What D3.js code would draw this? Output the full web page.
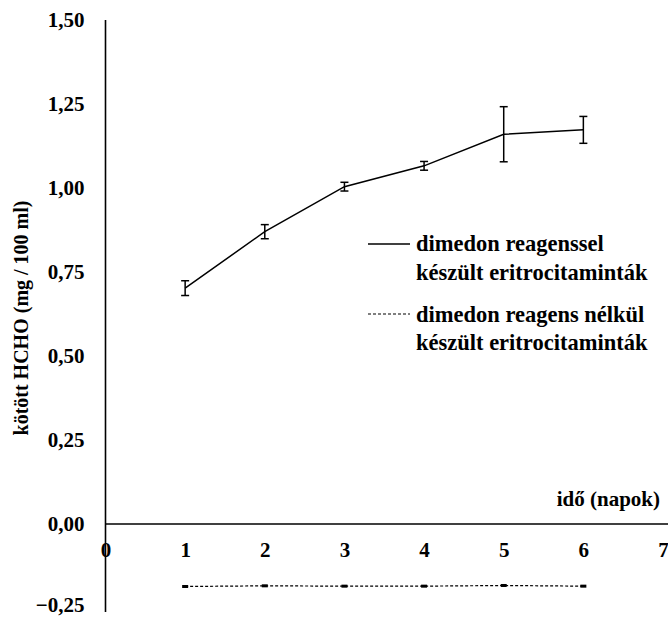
<!DOCTYPE html>
<html><head><meta charset="utf-8">
<script src="https://cdn.jsdelivr.net/npm/d3@7"></script>
<style>body{margin:0;background:#fff}svg{display:block}text{font-family:"Liberation Serif","Times New Roman",serif;font-weight:bold;fill:#000}</style>
</head><body>
<script>
const days = [1, 2, 3, 4, 5, 6];
const withReagent = [0.702, 0.870, 1.004, 1.066, 1.160, 1.173];
const withReagentErr = [0.022, 0.021, 0.013, 0.013, 0.082, 0.040];
const withoutReagent = [-0.186, -0.184, -0.185, -0.185, -0.183, -0.185];
const xTicks = [0, 1, 2, 3, 4, 5, 6, 7];
const yTicks = [-0.25, 0, 0.25, 0.5, 0.75, 1.0, 1.25, 1.5];
const legendLabels = [["dimedon reagenssel", "készült eritrocitaminták"], ["dimedon reagens nélkül", "készült eritrocitaminták"]];
const yTitle = "kötött HCHO (mg / 100 ml)";
const xTitle = "idő (napok)";

const W = 668, H = 618;
const svg = d3.select("body").append("svg").attr("width", W).attr("height", H);
const x = d3.scaleLinear().domain([0, 7]).range([105.5, 663]);
const y = d3.scaleLinear().domain([-0.25, 1.5]).range([608, 20]);
const fmt = v => d3.format(".2f")(v).replace(".", ",");

// Y axis
const yAx = svg.append("g").attr("transform", "translate(105.5,0)")
  .call(d3.axisLeft(y).tickValues(yTicks).tickSize(0).tickPadding(21).tickFormat(fmt));
yAx.select(".domain").remove();
yAx.selectAll("text").style("font-size", "21px").style("font-family", "Liberation Serif").style("font-weight", "bold")
  .attr("dy", d => d < 0 ? "0.15em" : "0.33em");
svg.append("line").attr("x1", 105.5).attr("x2", 105.5).attr("y1", y(1.5)).attr("y2", 612).attr("stroke", "#000").attr("stroke-width", 1.6);

// X axis
const xAx = svg.append("g").attr("transform", `translate(0,${y(0)})`)
  .call(d3.axisBottom(x).tickValues(xTicks).tickSize(0).tickPadding(18).tickFormat(d3.format("d")));
xAx.select(".domain").remove();
xAx.selectAll("text").style("font-size", "21px").style("font-family", "Liberation Serif").style("font-weight", "bold");
svg.append("line").attr("x1", 105.5).attr("x2", W).attr("y1", y(0)).attr("y2", y(0)).attr("stroke", "#000").attr("stroke-width", 1.6);

svg.append("text").attr("x", 660).attr("y", 506).attr("text-anchor", "end").style("font-size", "21px").text(xTitle);
svg.append("text").attr("transform", "translate(28,318) rotate(-90)").attr("text-anchor", "middle").style("font-size", "20px").text(yTitle);

// Series with reagent
const line = d3.line().x((d, i) => x(days[i])).y(d => y(d));
svg.append("path").datum(withReagent).attr("d", line).attr("fill", "none").attr("stroke", "#000").attr("stroke-width", 1.5);
const eb = svg.append("g").attr("stroke", "#000").attr("stroke-width", 1.5);
days.forEach((d, i) => {
  const cx = x(d), t = y(withReagent[i] + withReagentErr[i]), b = y(withReagent[i] - withReagentErr[i]);
  eb.append("line").attr("x1", cx).attr("x2", cx).attr("y1", t).attr("y2", b);
  eb.append("line").attr("x1", cx - 4).attr("x2", cx + 4).attr("y1", t).attr("y2", t);
  eb.append("line").attr("x1", cx - 4).attr("x2", cx + 4).attr("y1", b).attr("y2", b);
});

// Series without reagent
svg.append("path").datum(withoutReagent).attr("d", line).attr("fill", "none").attr("stroke", "#000").attr("stroke-width", 1.2).attr("stroke-dasharray", "3,2");
svg.append("g").selectAll("rect").data(withoutReagent).join("rect")
  .attr("x", (d, i) => x(days[i]) - 3).attr("y", d => y(d) - 1.5).attr("width", 6).attr("height", 3).attr("fill", "#000");

// Legend
const lg = svg.append("g");
lg.append("line").attr("x1", 368).attr("x2", 410).attr("y1", 244).attr("y2", 244).attr("stroke", "#000").attr("stroke-width", 1.5);
lg.append("line").attr("x1", 368).attr("x2", 410).attr("y1", 314).attr("y2", 314).attr("stroke", "#000").attr("stroke-width", 1.2).attr("stroke-dasharray", "3,2");
const lgY = [[251, 280], [322, 350]];
legendLabels.forEach((lines, i) => {
  lines.forEach((t, j) => {
    lg.append("text").attr("x", 416).attr("y", lgY[i][j]).style("font-size", "22.5px").text(t);
  });
});
</script>
</body></html>
